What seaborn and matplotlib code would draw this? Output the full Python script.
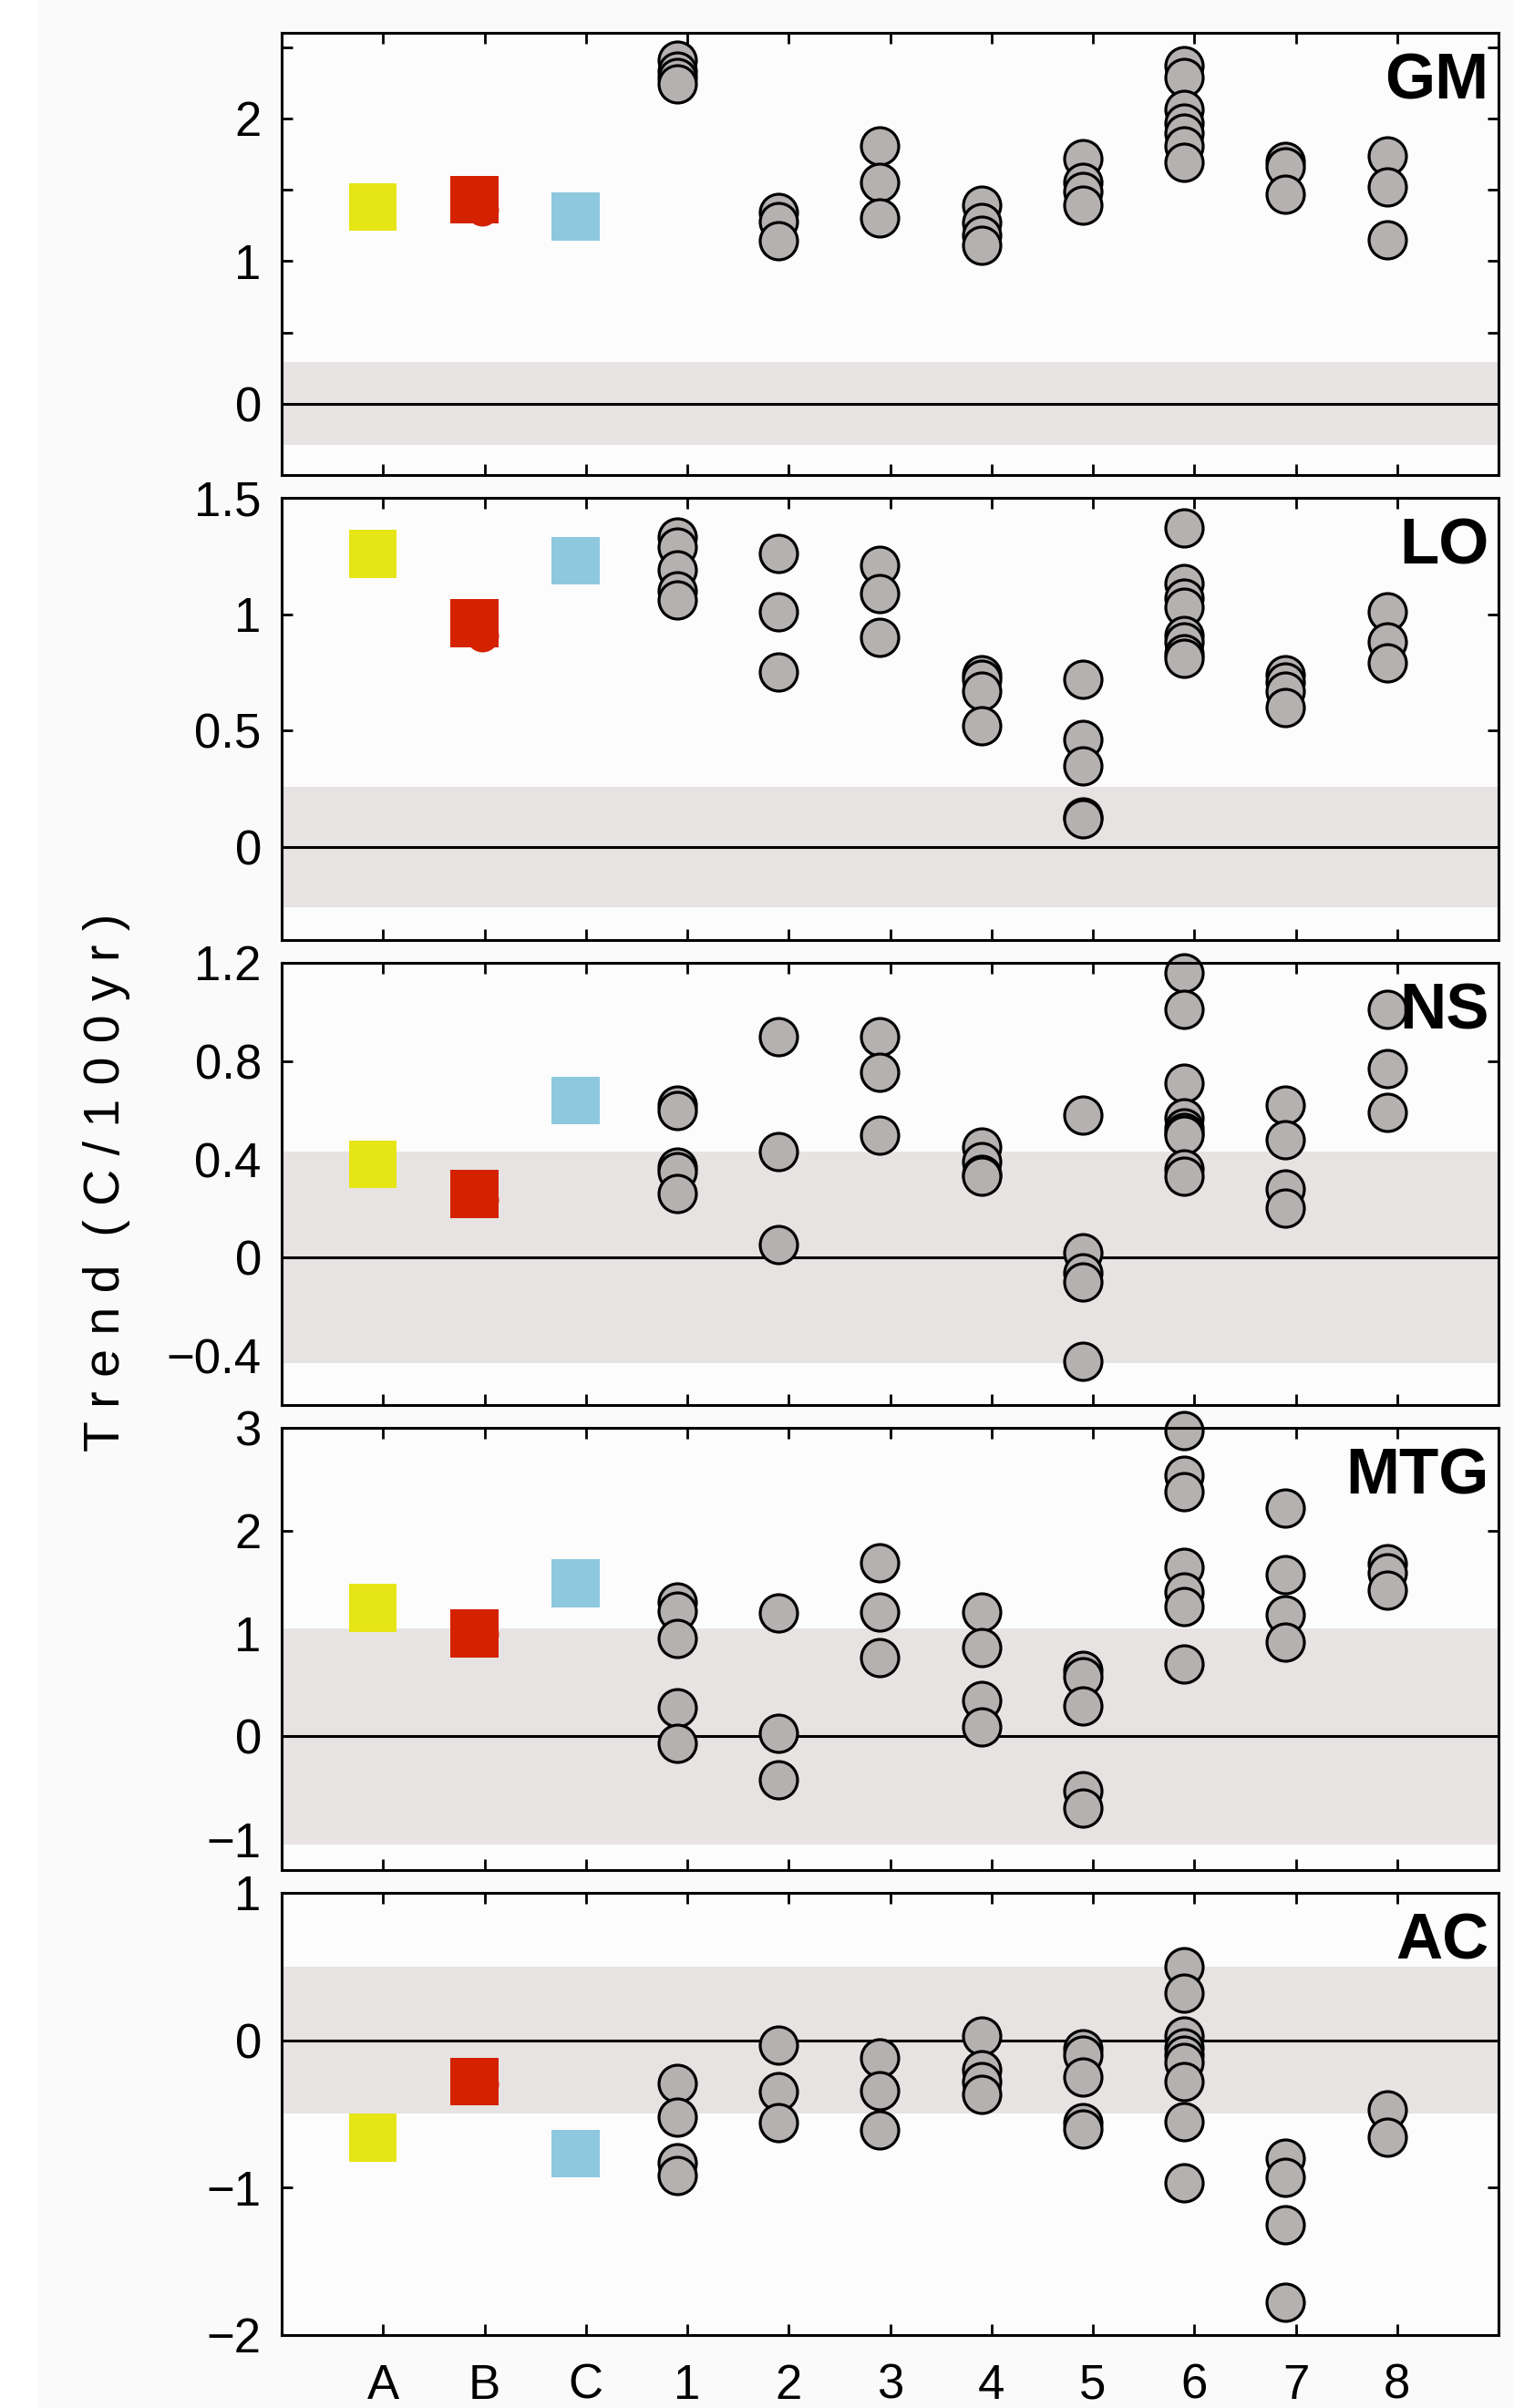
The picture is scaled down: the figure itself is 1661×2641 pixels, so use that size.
import pandas as pd
import matplotlib
matplotlib.use("Agg")
import matplotlib.pyplot as plt
import seaborn as sns
from matplotlib.patches import Rectangle

# categories along the x axis: three observed estimates, then eight models
CATEGORIES = ["A", "B", "C", "1", "2", "3", "4", "5", "6", "7", "8"]
PANELS = ["GM", "LO", "NS", "MTG", "AC"]

# observed trends (one value per panel)
OBS_A = [1.38, 1.26, 0.38, 1.25, -0.66]
OBS_B = [1.43, 0.96, 0.26, 1.00, -0.28]
OBS_B_DOT = [1.36, 0.91, 0.234, 1.00, -0.30]
OBS_C = [1.31, 1.23, 0.64, 1.49, -0.77]

# half width of the shaded noise band
NOISE_BAND = [0.29, 0.26, 0.43, 1.05, 0.50]

# model runs, models 1..8
GM_RUNS = [
    [2.41, 2.33, 2.29, 2.24],
    [1.34, 1.28, 1.14],
    [1.81, 1.55, 1.30],
    [1.39, 1.27, 1.18, 1.11],
    [1.72, 1.55, 1.49, 1.39],
    [2.37, 2.29, 2.06, 1.97, 1.90, 1.81, 1.69],
    [1.70, 1.66, 1.47],
    [1.74, 1.52, 1.15],
]
LO_RUNS = [
    [1.33, 1.29, 1.19, 1.10, 1.06],
    [1.26, 1.01, 0.75],
    [1.21, 1.09, 0.90],
    [0.74, 0.72, 0.67, 0.52],
    [0.72, 0.46, 0.35, 0.13, 0.12],
    [1.37, 1.13, 1.07, 1.03, 0.91, 0.88, 0.83, 0.81],
    [0.74, 0.71, 0.67, 0.60],
    [1.01, 0.88, 0.79],
]
NS_RUNS = [
    [0.62, 0.60, 0.37, 0.35, 0.26],
    [0.90, 0.43, 0.055],
    [0.90, 0.755, 0.50],
    [0.45, 0.39, 0.34, 0.33],
    [0.58, 0.02, -0.06, -0.10, -0.42],
    [1.16, 1.01, 0.71, 0.57, 0.53, 0.51, 0.50, 0.36, 0.33],
    [0.62, 0.48, 0.28, 0.20],
    [1.01, 0.77, 0.59],
]
MTG_RUNS = [
    [1.31, 1.22, 0.95, 0.28, -0.07],
    [1.20, 0.03, -0.42],
    [1.69, 1.21, 0.77],
    [1.21, 0.86, 0.35, 0.09],
    [0.64, 0.58, 0.30, -0.53, -0.70],
    [2.97, 2.54, 2.38, 1.64, 1.40, 1.26, 0.70],
    [2.22, 1.57, 1.18, 0.92],
    [1.68, 1.59, 1.42],
]
AC_RUNS = [
    [-0.29, -0.52, -0.83, -0.92],
    [-0.035, -0.35, -0.56],
    [-0.12, -0.34, -0.61],
    [0.03, -0.20, -0.28, -0.37],
    [-0.06, -0.10, -0.25, -0.56, -0.60],
    [0.50, 0.32, 0.03, -0.05, -0.10, -0.15, -0.28, -0.55, -0.97],
    [-0.80, -0.93, -1.25, -1.78],
    [-0.47, -0.66],
]
ALL_RUNS = [GM_RUNS, LO_RUNS, NS_RUNS, MTG_RUNS, AC_RUNS]

# axis setup per panel
Y_LIMS = [(-0.5, 2.6), (-0.4, 1.5), (-0.6, 1.2), (-1.3, 3.0), (-2.0, 1.0)]
Y_TICKS = [
    [0, 0.5, 1, 1.5, 2, 2.5],
    [0, 0.5, 1, 1.5],
    [-0.4, 0, 0.4, 0.8, 1.2],
    [-1, 0, 1, 2, 3],
    [-2, -1, 0, 1],
]

OBS_COLORS = {"A": "#e6e516", "B": "#d42200", "C": "#8ec8df"}
GRAY = "#b4b1b0"
BAND = "#e7e3e2"
XPOS = {c: i + 1 for i, c in enumerate(CATEGORIES)}
SHIFT = -0.1


def fmt(v):
    return "{:g}".format(v).replace("-", "\u2212")


def runs_frame(runs):
    rows = []
    for k, vals in enumerate(runs):
        for v in vals:
            rows.append({"cat": CATEGORIES[3 + k], "trend": v})
    df = pd.DataFrame(rows)
    df["x"] = df["cat"].map(XPOS) + SHIFT
    return df


sns.set_theme(style="ticks", rc={
    "axes.edgecolor": "black", "text.color": "black",
    "xtick.color": "black", "ytick.color": "black",
    "axes.labelcolor": "black",
})
plt.rcParams["font.family"] = ["Liberation Sans", "DejaVu Sans"]

fig, axes = plt.subplots(5, 1, figsize=(16.61, 26.41), dpi=100, sharex=True)
fig.patch.set_facecolor("#fafafa")
fig.add_artist(Rectangle((0, 0), 0.024, 1, transform=fig.transFigure,
                         color="white", zorder=-5))
fig.subplots_adjust(left=309 / 1661, right=1644 / 1661,
                    top=1 - 36 / 2641, bottom=1 - 2561 / 2641, hspace=0.0515)

for i, ax in enumerate(axes):
    ax.set_facecolor("#fcfcfc")
    band = NOISE_BAND[i]
    ax.axhspan(-band, band, color=BAND, lw=0, zorder=1)
    ax.axhline(0, color="black", lw=2.2, zorder=2)

    obs = pd.DataFrame({"cat": ["A", "B", "C"],
                        "trend": [OBS_A[i], OBS_B[i], OBS_C[i]]})
    obs["x"] = obs["cat"].map(XPOS) + SHIFT

    # small red dot partly hidden behind the B square
    sns.scatterplot(x=[XPOS["B"] - 0.02], y=[OBS_B_DOT[i]], color=OBS_COLORS["B"],
                    s=670, linewidth=0, ax=ax, zorder=3, legend=False)
    sns.scatterplot(data=obs, x="x", y="trend", hue="cat", palette=OBS_COLORS,
                    marker="s", s=1440, linewidth=0, ax=ax, zorder=4, legend=False)
    sns.scatterplot(data=runs_frame(ALL_RUNS[i]), x="x", y="trend", color=GRAY,
                    edgecolor="black", linewidth=2.3, s=870, ax=ax, zorder=5,
                    legend=False, clip_on=False)

    ax.set_xlim(0, 12)
    ax.set_ylim(*Y_LIMS[i])
    ticks = Y_TICKS[i]
    ax.set_yticks(ticks)
    if PANELS[i] == "GM":
        ax.set_yticklabels([fmt(t) if float(t).is_integer() else "" for t in ticks])
    else:
        ax.set_yticklabels([fmt(t) for t in ticks])
    ax.set_xticks(range(1, len(CATEGORIES) + 1))
    ax.tick_params(axis="both", direction="in", length=8.5, width=2,
                   top=True, right=True, labelsize=38)
    ax.tick_params(axis="y", pad=16)
    ax.tick_params(axis="x", pad=22)
    ax.set_xlabel("")
    ax.set_ylabel("")
    for sp in ax.spines.values():
        sp.set_linewidth(2.2)
        sp.set_color("black")
        sp.set_zorder(6)
    ax.text(0.992, 0.955, PANELS[i], transform=ax.transAxes, ha="right",
            va="top", fontsize=51, fontweight="bold", zorder=7)

axes[-1].set_xticklabels(CATEGORIES)

fig.text(117 / 1661, 1 - 1297 / 2641, "T r e n d  ( C / 1 0 0 y r )",
         rotation=90, fontsize=40, ha="center", va="center")

fig.savefig("out.png", dpi=100, facecolor=fig.get_facecolor())
